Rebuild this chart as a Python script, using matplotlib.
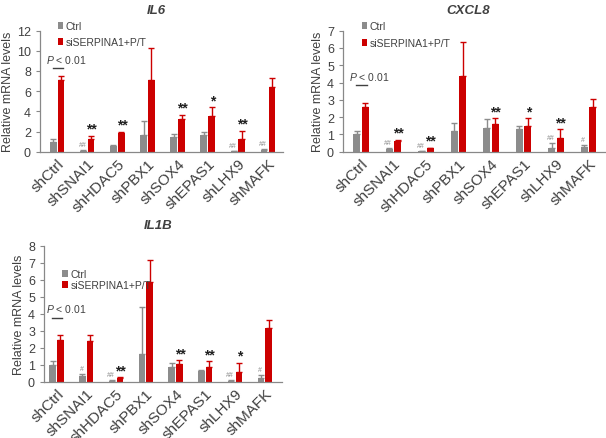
import matplotlib
matplotlib.use("Agg")
import matplotlib.pyplot as plt
import numpy as np

plt.rcParams['font.family'] = ['Liberation Sans', 'DejaVu Sans']
plt.rcParams['mathtext.fontset'] = 'custom'
plt.rcParams['mathtext.it'] = 'Liberation Sans:italic'
plt.rcParams['mathtext.rm'] = 'Liberation Sans'

categories = ['shCtrl', 'shSNAI1', 'shHDAC5', 'shPBX1', 'shSOX4', 'shEPAS1', 'shLHX9', 'shMAFK']
series_names = ['Ctrl', 'siSERPINA1+P/T']

il6_ctrl = [1.0, 0.1, 0.55, 1.7, 1.45, 1.68, 0.08, 0.2]
il6_ctrl_err = [0.25, 0.05, 0.08, 1.3, 0.35, 0.25, 0.03, 0.05]
il6_red = [7.1, 1.3, 1.9, 7.1, 3.25, 3.5, 1.25, 6.4]
il6_red_err = [0.45, 0.27, 0.1, 3.15, 0.4, 0.9, 0.82, 0.95]
il6_ctrl_sig = ['', '##', '', '', '', '', '##', '##']
il6_red_sig = ['', '**', '**', '', '**', '*', '**', '']

cx_ctrl = [1.0, 0.16, 0.05, 1.2, 1.36, 1.3, 0.2, 0.25]
cx_ctrl_err = [0.2, 0.04, 0.02, 0.44, 0.52, 0.2, 0.3, 0.13]
cx_red = [2.6, 0.6, 0.21, 4.35, 1.6, 1.48, 0.78, 2.6]
cx_red_err = [0.23, 0.1, 0.03, 2.0, 0.33, 0.47, 0.53, 0.45]
cx_ctrl_sig = ['', '##', '##', '', '', '', '##', '#']
cx_red_sig = ['', '**', '**', '', '**', '*', '**', '']

il1b_ctrl = [0.98, 0.35, 0.07, 1.65, 0.86, 0.66, 0.07, 0.25]
il1b_ctrl_err = [0.23, 0.14, 0.02, 2.75, 0.27, 0.04, 0.03, 0.18]
il1b_red = [2.46, 2.42, 0.24, 5.85, 1.03, 0.9, 0.6, 3.18]
il1b_red_err = [0.27, 0.31, 0.03, 1.3, 0.26, 0.33, 0.54, 0.47]
il1b_ctrl_sig = ['', '#', '##', '', '', '', '##', '#']
il1b_red_sig = ['', '', '**', '', '**', '**', '*', '']

GRAY = '#8c8c8c'
RED = '#cc0000'
TXT = '#404040'

fig = plt.figure(figsize=(6.06, 4.39), dpi=100)

def panel(rect, title, ctrl, ctrl_err, red, red_err, csig, rsig, ymax, yticks, xlim,
          line_y, text_y, leg_anchor, leg_spacing):
    ax = fig.add_axes(rect)
    x = np.arange(len(categories))
    w = 0.22
    off = 0.13
    ax.bar(x - off, ctrl, w, color=GRAY, label=series_names[0], zorder=2)
    ax.bar(x + off, red, w, color=RED, label=series_names[1], zorder=2)
    ax.errorbar(x - off, ctrl, yerr=[np.zeros(len(ctrl)), ctrl_err], fmt='none',
                ecolor=GRAY, elinewidth=1.0, capsize=2.5, capthick=1.0, zorder=1)
    ax.errorbar(x + off, red, yerr=[np.zeros(len(red)), red_err], fmt='none',
                ecolor=RED, elinewidth=1.0, capsize=2.5, capthick=1.0, zorder=1)
    for i in range(len(categories)):
        if csig[i]:
            ax.text(x[i] - off - 0.03, ctrl[i] + ctrl_err[i] + 0.015 * ymax, csig[i], ha='center',
                    va='bottom', fontsize=5, color=GRAY)
        if rsig[i]:
            ax.text(x[i] + off + 0.02, red[i] + red_err[i], rsig[i], ha='center',
                    va='bottom', fontsize=10, fontweight='bold', color='#202020')
    ax.set_xlim(*xlim)
    ax.set_ylim(0, ymax)
    ax.set_yticks(yticks)
    ax.set_xticks(x)
    ax.set_xticklabels(categories, rotation=45, ha='right', rotation_mode='anchor',
                       fontsize=11, color=TXT)
    ax.tick_params(axis='x', length=0, pad=3)
    ax.tick_params(axis='y', labelsize=9, colors=TXT, length=3, width=0.8, color='#888888')
    for s in ['top', 'right']:
        ax.spines[s].set_visible(False)
    for s in ['left', 'bottom']:
        ax.spines[s].set_color('#888888')
        ax.spines[s].set_linewidth(0.9)
    ax.set_ylabel('Relative mRNA levels', fontsize=9, color=TXT, labelpad=2)
    ax.set_title(title, fontsize=9.5, style='italic', fontweight='bold', color=TXT, pad=13,
                 x=0.48)
    # P < 0.01 annotation over shCtrl
    ax.plot([x[0] - 0.15, x[0] + 0.2], [line_y, line_y], color='#404040', lw=1.0)
    ax.text(x[0] - 0.36, text_y, r'$\mathit{P}$ < 0.01', fontsize=7.5,
            color=TXT, ha='left', va='center')
    leg = ax.legend(loc='upper left', bbox_to_anchor=leg_anchor, frameon=False,
                    fontsize=7.5, handlelength=0.5, handleheight=0.6, handletextpad=0.3,
                    labelspacing=leg_spacing, borderaxespad=0)
    for t in leg.get_texts():
        t.set_color(TXT)
    return ax

panel([0.066, 0.652, 0.401, 0.276], 'IL6', il6_ctrl, il6_ctrl_err, il6_red, il6_red_err,
      il6_ctrl_sig, il6_red_sig, 12, [0, 2, 4, 6, 8, 10, 12], (-0.57, 7.5),
      8.26, 9.2, (0.055, 1.11), 0.55)
panel([0.566, 0.652, 0.432, 0.276], 'CXCL8', cx_ctrl, cx_ctrl_err, cx_red, cx_red_err,
      cx_ctrl_sig, cx_red_sig, 7, [0, 1, 2, 3, 4, 5, 6, 7], (-0.55, 7.5),
      3.86, 4.36, (0.055, 1.11), 0.65)
panel([0.0726, 0.1276, 0.3924, 0.3104], 'IL1B', il1b_ctrl, il1b_ctrl_err, il1b_red, il1b_red_err,
      il1b_ctrl_sig, il1b_red_sig, 8, [0, 1, 2, 3, 4, 5, 6, 7, 8], (-0.42, 7.57),
      3.75, 4.33, (0.06, 0.86), 0.1)

fig.savefig('out.png', dpi=100)
